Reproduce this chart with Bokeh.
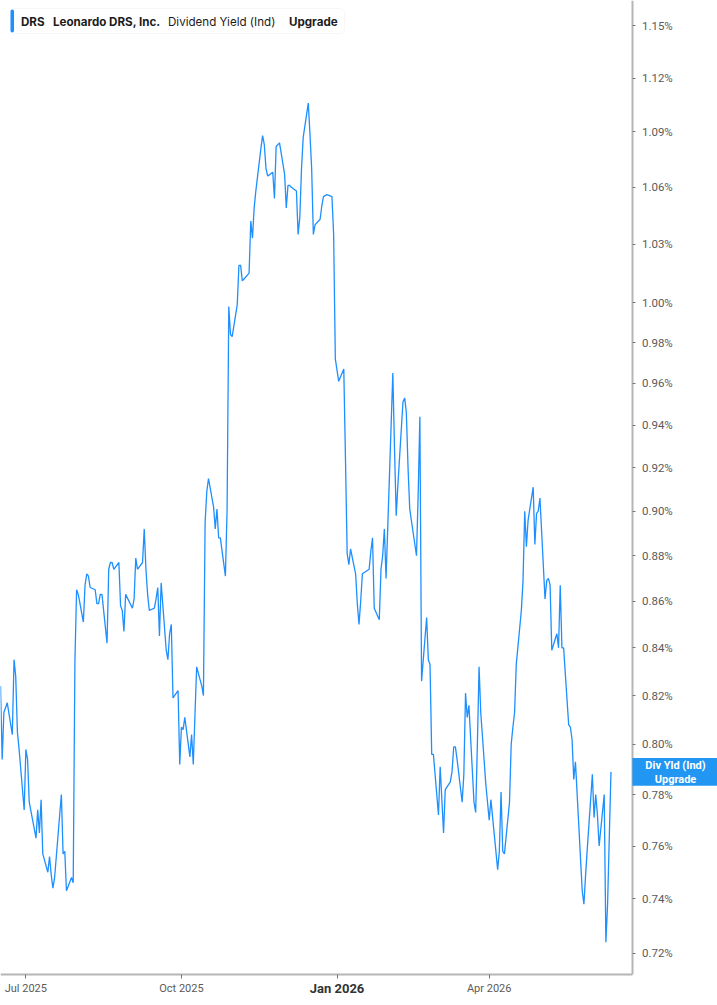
import pandas as pd
from bokeh.plotting import figure
from bokeh.models import (Range1d, FixedTicker, PrintfTickFormatter, CustomJSTickFormatter,
                          Label, BoxAnnotation, ColumnDataSource)
from bokeh.embed import file_html
from bokeh.resources import INLINE

# ---------------- data ----------------
ticker_symbol = "DRS"
company_name = "Leonardo DRS, Inc."
metric_name = "Dividend Yield (Ind)"
badge_text = "Upgrade"
last_label = "Div Yld (Ind)\nUpgrade"

start_date = "2025-06-16"
axis_date = "2026-06-25"        # where the value axis sits
view_end_date = "2026-08-14"    # right edge of the view (label area)
market_holidays = ["2025-06-19", "2025-07-04", "2025-09-01", "2025-11-27", "2025-12-25",
                   "2026-01-01", "2026-01-19", "2026-02-16", "2026-04-03", "2026-05-25"]

# dividend yield (%), one value per trading day
div_yield = [
    0.824, 0.794, 0.813, 0.817, 0.804, 0.835, 0.828, 0.805, 0.798, 0.774,
    0.798, 0.794, 0.777, 0.763, 0.774, 0.765, 0.778, 0.757, 0.750, 0.756,
    0.749, 0.744, 0.748, 0.772, 0.780, 0.757, 0.758, 0.743, 0.748, 0.746,
    0.834, 0.865, 0.863, 0.851, 0.867, 0.872, 0.871, 0.866, 0.865, 0.859,
    0.859, 0.863, 0.863, 0.842, 0.874, 0.877, 0.877, 0.874, 0.877, 0.858,
    0.856, 0.847, 0.863, 0.857, 0.861, 0.879, 0.874, 0.877, 0.892, 0.874,
    0.863, 0.856, 0.857, 0.861, 0.866, 0.845, 0.868, 0.839, 0.835, 0.846,
    0.850, 0.819, 0.822, 0.792, 0.807, 0.806, 0.811, 0.795, 0.804, 0.792,
    0.812, 0.832, 0.824, 0.820, 0.895, 0.909, 0.915, 0.902, 0.892, 0.901,
    0.888, 0.888, 0.871, 0.901, 0.998, 0.984, 0.983, 0.999, 1.019, 1.019,
    1.011, 1.012, 1.015, 1.042, 1.033, 1.049, 1.058, 1.081, 1.088, 1.083,
    1.070, 1.066, 1.068, 1.054, 1.082, 1.084, 1.067, 1.049, 1.061, 1.061,
    1.060, 1.058, 1.035, 1.044, 1.070, 1.087, 1.106, 1.089, 1.070, 1.035,
    1.040, 1.043, 1.050, 1.055, 1.056, 1.055, 1.035, 0.972, 0.961, 0.967,
    0.924, 0.881, 0.876, 0.883, 0.872, 0.859, 0.850, 0.860, 0.872, 0.874,
    0.882, 0.888, 0.857, 0.852, 0.874, 0.880, 0.892, 0.870, 0.940, 0.965,
    0.929, 0.898, 0.912, 0.951, 0.953, 0.946, 0.920, 0.901, 0.880, 0.908,
    0.944, 0.826, 0.853, 0.835, 0.833, 0.796, 0.796, 0.772, 0.791, 0.778,
    0.765, 0.782, 0.785, 0.789, 0.799, 0.799, 0.794, 0.777, 0.788, 0.821,
    0.811, 0.816, 0.777, 0.773, 0.800, 0.832, 0.813, 0.784, 0.777, 0.770,
    0.778, 0.751, 0.758, 0.781, 0.758, 0.757, 0.777, 0.800, 0.807, 0.813,
    0.833, 0.856, 0.869, 0.900, 0.884, 0.896, 0.911, 0.885, 0.899, 0.900,
    0.906, 0.861, 0.869, 0.870, 0.867, 0.839, 0.846, 0.840, 0.867, 0.840,
    0.840, 0.808, 0.807, 0.802, 0.786, 0.793, 0.743, 0.738, 0.749, 0.759,
    0.788, 0.771, 0.780, 0.772, 0.760, 0.780, 0.724, 0.738, 0.763, 0.789,
]

y_ticks = [0.72, 0.74, 0.76, 0.78, 0.80, 0.82, 0.84, 0.86, 0.88, 0.90, 0.92,
           0.94, 0.96, 0.98, 1.00, 1.03, 1.06, 1.09, 1.12, 1.15]
axis_floor = 0.7123     # value where the time axis sits
view_floor = 0.7012     # bottom of view (label area)
view_top = 1.1648

x_tick_dates = ["2025-07-01", "2025-10-01", "2026-01-01", "2026-04-01"]
x_tick_labels = ["Jul 2025", "Oct 2025", "Jan 2026", "Apr 2026"]
bold_tick_label = "Jan 2026"

# ---------------- build ----------------
dates = pd.bdate_range(start=start_date, periods=len(div_yield), freq="C",
                       holidays=market_holidays)
src = ColumnDataSource(dict(date=dates, yld=div_yield))

LINE_BLUE = "#1e8fff"
BADGE_BLUE = "#2196f3"
AXIS_GREY = "#b5b5b5"

W, H = 717, 1005

def ms(d):
    return pd.Timestamp(d).value / 1e6

p = figure(width=W, height=H, x_axis_type="datetime", y_axis_type="log",
           y_axis_location="right",
           x_range=Range1d(dates[0], pd.Timestamp(view_end_date)),
           y_range=Range1d(view_floor, view_top),
           output_backend="svg", toolbar_location=None,
           min_border_left=0, min_border_top=0, min_border_right=0, min_border_bottom=0)

p.outline_line_color = None
p.xgrid.grid_line_color = None
p.ygrid.grid_line_color = None
p.background_fill_color = "white"
p.border_fill_color = "white"

p.line("date", "yld", source=src, line_color=LINE_BLUE, line_width=1.3)

# y axis (right, log) pinned at axis_date
yax = p.yaxis[0]
yax.fixed_location = ms(axis_date)
yax.bounds = (axis_floor, view_top)
yax.ticker = FixedTicker(ticks=y_ticks, minor_ticks=[])
yax.formatter = PrintfTickFormatter(format="%.2f%%")
yax.axis_line_color = AXIS_GREY
yax.axis_line_width = 2
yax.major_tick_in = 0
yax.major_tick_out = 3
yax.major_tick_line_color = "#777777"
yax.minor_tick_line_color = None
yax.major_label_text_font = "Roboto"
yax.major_label_text_font_size = "11.5px"
yax.major_label_text_color = "#5a5a5a"
yax.major_label_standoff = 6

# x axis pinned at axis_floor
tick_ms = [ms(d) for d in x_tick_dates]
xax = p.xaxis[0]
xax.fixed_location = axis_floor
xax.bounds = (ms(start_date), ms(axis_date))
xax.ticker = FixedTicker(ticks=tick_ms, minor_ticks=[])
xax.formatter = CustomJSTickFormatter(
    args=dict(tick_ms=tick_ms, tick_text=x_tick_labels, bold=bold_tick_label),
    code="const i = tick_ms.indexOf(tick); if (i < 0 || tick_text[i] == bold) return ''; return tick_text[i];")
xax.axis_line_color = AXIS_GREY
xax.axis_line_width = 2
xax.major_tick_in = 0
xax.major_tick_out = 4
xax.major_tick_line_color = "#777777"
xax.minor_tick_line_color = None
xax.major_label_text_font = "Roboto"
xax.major_label_text_font_size = "11px"
xax.major_label_text_color = "#5a5a5a"
xax.major_label_standoff = 4

bi = x_tick_labels.index(bold_tick_label)
p.add_layout(Label(x=tick_ms[bi], y=H - 988, y_units="screen", text=bold_tick_label,
                   text_align="center", text_baseline="middle",
                   text_font="Roboto", text_font_style="bold", text_font_size="13px",
                   text_color="#333333"))

# header box (top-left)
p.add_layout(BoxAnnotation(left=10, right=344, top=H - 8, bottom=H - 33,
                           left_units="screen", right_units="screen",
                           top_units="screen", bottom_units="screen",
                           fill_color="white", fill_alpha=1.0,
                           line_color="#e4e4e4", line_width=1, border_radius=4))
p.add_layout(BoxAnnotation(left=10, right=13.5, top=H - 9, bottom=H - 32,
                           left_units="screen", right_units="screen",
                           top_units="screen", bottom_units="screen",
                           fill_color=LINE_BLUE, fill_alpha=1.0, line_color=None,
                           border_radius=2))

header_y = H - 21
for txt, xpos, style in [(ticker_symbol, 20.5, "bold"), (company_name, 52.5, "bold"),
                         (metric_name, 167.5, "normal"), (badge_text, 288.5, "bold")]:
    p.add_layout(Label(x=xpos, y=header_y, x_units="screen", y_units="screen", text=txt,
                       text_baseline="middle", text_align="left",
                       text_font="Inter", text_font_style=style, text_font_size="11.6px",
                       text_color="#1c1c1c"))

# last value badge on the value axis
p.add_layout(Label(x=675, y=div_yield[-1], x_units="screen", text=last_label,
                   text_align="center", text_baseline="middle",
                   text_font="Roboto", text_font_style="bold", text_font_size="11px",
                   text_color="white", text_line_height=1.05,
                   background_fill_color=BADGE_BLUE, background_fill_alpha=1.0,
                   padding=dict(left=13, right=13, top=1, bottom=0)))

open("out.html", "w").write(file_html(p, INLINE))
